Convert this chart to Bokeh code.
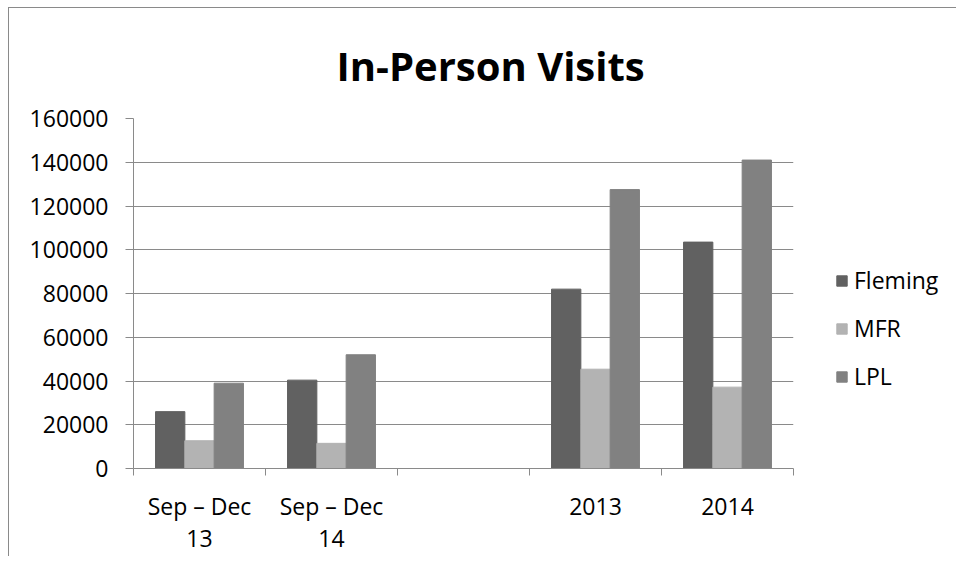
from bokeh.plotting import figure
from bokeh.models import (ColumnDataSource, FixedTicker, Legend, LegendItem, Range1d)
from bokeh.embed import file_html
from bokeh.resources import INLINE

title_text = "In-Person Visits"
categories = ["Sep – Dec\n13", "Sep – Dec\n14", "", "2013", "2014"]
series_names = ["Fleming", "MFR", "LPL"]
fleming = [26000, 40400, None, 82000, 103500]
mfr = [12700, 11500, None, 45400, 37200]
lpl = [39000, 52000, None, 127500, 141000]
series_values = [fleming, mfr, lpl]
series_colors = ["#616161", "#b3b3b3", "#818181"]
y_ticks = [0, 20000, 40000, 60000, 80000, 100000, 120000, 140000, 160000]

FONT = "Open Sans"
GRID = "#8a8a8a"

p = figure(frame_width=660, frame_height=350, output_backend="svg", toolbar_location=None,
           x_range=Range1d(0, len(categories)), y_range=Range1d(0, 160000),
           min_border_left=124, min_border_right=146, min_border_top=110,
           min_border_bottom=80)

p.title.text = title_text
p.title.text_font = FONT
p.title.text_font_size = "40px"
p.title.text_font_style = "bold"
p.title.align = "left"
p.title.text_color = "black"
p.title.standoff = 52
p.title.offset = 203

bar_w = 0.222
offsets = [-bar_w, 0.0, bar_w]
items = []
for name, vals, col, off in zip(series_names, series_values, series_colors, offsets):
    xs = [i + 0.5 + off for i, v in enumerate(vals) if v is not None]
    tops = [v for v in vals if v is not None]
    src = ColumnDataSource(dict(x=xs, top=tops))
    r = p.vbar(x="x", top="top", width=bar_w, bottom=0, source=src,
               fill_color=col, line_color=col, line_width=1)
    items.append(LegendItem(label=name, renderers=[r]))

# x axis: labels at centres, ticks at boundaries
xa = p.xaxis[0]
xa.ticker = FixedTicker(ticks=[i + 0.5 for i in range(len(categories))],
                        minor_ticks=list(range(len(categories) + 1)))
xa.major_label_overrides = {i + 0.5: c for i, c in enumerate(categories)}
xa.major_tick_out = 0
xa.major_tick_in = 0
xa.minor_tick_out = 7
xa.minor_tick_in = 0
xa.minor_tick_line_color = GRID
xa.axis_line_color = GRID
xa.major_label_text_font = FONT
xa.major_label_text_font_size = "23px"
xa.major_label_text_color = "black"
xa.major_label_text_line_height = 1.0
xa.major_label_standoff = 14

ya = p.yaxis[0]
ya.ticker = FixedTicker(ticks=y_ticks)
ya.major_label_overrides = {t: str(t) for t in y_ticks}
ya.major_tick_out = 8
ya.major_tick_in = 0
ya.minor_tick_line_color = None
ya.major_tick_line_color = GRID
ya.axis_line_color = GRID
ya.major_label_text_font = FONT
ya.major_label_text_font_size = "23px"
ya.major_label_text_color = "black"
ya.major_label_standoff = 17

p.xgrid.visible = False
p.ygrid.ticker = FixedTicker(ticks=y_ticks)
p.ygrid.grid_line_color = GRID
p.ygrid.grid_line_width = 1
p.outline_line_color = None

legend = Legend(items=items, location=(42, 76), orientation="vertical",
                glyph_width=13, glyph_height=13, label_standoff=6,
                spacing=16, padding=0, margin=0,
                label_text_font=FONT, label_text_font_size="23px",
                label_text_color="black", label_height=30,
                border_line_color=None, background_fill_alpha=0)
p.add_layout(legend, "right")

p.styles = {"margin-left": "8px", "margin-top": "7px",
            "border-left": "1px solid #8a8a8a", "border-top": "1px solid #8a8a8a"}

open("out.html", "w").write(file_html(p, INLINE))
